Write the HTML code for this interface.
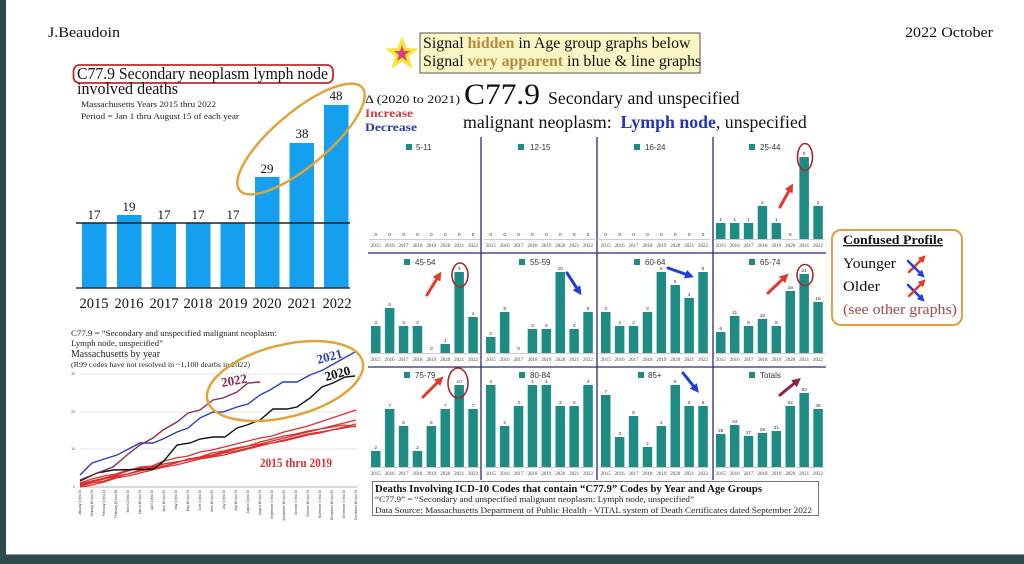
<!DOCTYPE html>
<html><head><meta charset="utf-8"><style>
html,body{margin:0;padding:0;width:1024px;height:564px;overflow:hidden;background:#2e4a4d;}
svg{display:block;}
.s{font-family:"Liberation Serif",serif;}
.a{font-family:"Liberation Sans",sans-serif;}
.yr{font-family:"Liberation Serif",serif;font-size:5px;fill:#444;text-anchor:middle;}
.vl{font-family:"Liberation Sans",sans-serif;font-size:4.8px;fill:#333;text-anchor:middle;}
.bar{fill:#1e8c84;}
.lg{font-family:"Liberation Sans",sans-serif;font-size:8px;fill:#333;}
.xt{font-family:"Liberation Sans",sans-serif;font-size:3.2px;fill:#333;text-anchor:end;}
</style></head><body>
<svg width="1024" height="564" viewBox="0 0 1024 564" xmlns="http://www.w3.org/2000/svg">
<defs>
<marker id="mr" viewBox="0 0 10 10" refX="3" refY="5" markerWidth="3" markerHeight="3" orient="auto"><path d="M0,0 L10,5 L0,10 z" fill="#e3382a"/></marker>
<marker id="mb" viewBox="0 0 10 10" refX="3" refY="5" markerWidth="3" markerHeight="3" orient="auto"><path d="M0,0 L10,5 L0,10 z" fill="#1f3fd8"/></marker>
<marker id="mm" viewBox="0 0 10 10" refX="3" refY="5" markerWidth="3" markerHeight="3" orient="auto"><path d="M0,0 L10,5 L0,10 z" fill="#8c1f4c"/></marker>
</defs>
<rect x="0" y="0" width="1024" height="564" fill="#2e4a4d"/>
<rect x="6" y="0" width="1018" height="555" fill="#ffffff"/>
<rect x="6" y="554" width="1018" height="1" fill="#8a9a9a"/>

<!-- header -->
<text class="s" x="48" y="37" font-size="15" fill="#111" textLength="72" lengthAdjust="spacingAndGlyphs">J.Beaudoin</text>
<text class="s" x="905" y="37" font-size="15" fill="#111" textLength="88" lengthAdjust="spacingAndGlyphs">2022 October</text>

<!-- left bar chart -->
<rect x="73.5" y="65" width="259.5" height="18" rx="6" fill="none" stroke="#c42a2a" stroke-width="1.8"/>
<text class="s" x="77" y="79" font-size="17" fill="#111" textLength="251" lengthAdjust="spacingAndGlyphs">C77.9 Secondary neoplasm lymph node</text>
<text class="s" x="77" y="94" font-size="17" fill="#111" textLength="101" lengthAdjust="spacingAndGlyphs">involved deaths</text>
<text class="s" x="81" y="107" font-size="8" fill="#222" textLength="135" lengthAdjust="spacingAndGlyphs">Massachusetts Years 2015 thru 2022</text>
<text class="s" x="81" y="119" font-size="8" fill="#222" textLength="158" lengthAdjust="spacingAndGlyphs">Period = Jan 1 thru August 15 of each year</text>

<g fill="#14a0ee">
<rect x="82" y="223" width="24.5" height="65"/>
<rect x="117" y="215" width="24.5" height="73"/>
<rect x="151.5" y="223" width="24.5" height="65"/>
<rect x="186" y="223" width="24.5" height="65"/>
<rect x="220.5" y="223" width="24.5" height="65"/>
<rect x="255" y="177" width="24.5" height="111"/>
<rect x="289.5" y="143" width="24.5" height="145"/>
<rect x="324" y="105" width="24.5" height="183"/>
</g>
<line x1="76" y1="223" x2="350" y2="223" stroke="#222" stroke-width="1.5"/>
<line x1="76" y1="288" x2="350" y2="288" stroke="#333" stroke-width="1.5"/>
<g class="s" font-size="13" fill="#111" text-anchor="middle">
<text x="94" y="219">17</text>
<text x="129" y="211">19</text>
<text x="164" y="219">17</text>
<text x="198" y="219">17</text>
<text x="233" y="219">17</text>
<text x="267" y="173">29</text>
<text x="302" y="138">38</text>
<text x="336" y="100">48</text>
</g>
<g class="s" font-size="14.5" fill="#111" text-anchor="middle">
<text x="94" y="308">2015</text>
<text x="129" y="308">2016</text>
<text x="164" y="308">2017</text>
<text x="198" y="308">2018</text>
<text x="233" y="308">2019</text>
<text x="267" y="308">2020</text>
<text x="302" y="308">2021</text>
<text x="337" y="308">2022</text>
</g>
<ellipse cx="301" cy="139" rx="80" ry="27" transform="rotate(-40 301 139)" fill="none" stroke="#e0a43a" stroke-width="2.5"/>

<!-- line chart -->
<text class="s" x="71" y="336" font-size="8.5" fill="#222" textLength="206" lengthAdjust="spacingAndGlyphs">C77.9 = “Secondary and unspecified malignant neoplasm:</text>
<text class="s" x="71" y="346" font-size="8.5" fill="#222" textLength="92" lengthAdjust="spacingAndGlyphs">Lymph node, unspecified”</text>
<text class="s" x="71" y="357" font-size="10.5" fill="#222" textLength="89" lengthAdjust="spacingAndGlyphs">Massachusetts by year</text>
<text class="s" x="71" y="367" font-size="7" fill="#222" textLength="179" lengthAdjust="spacingAndGlyphs">(R99 codes have not resolved in ~1,100 deaths in 2022)</text>
<g stroke="#dddddd" stroke-width="0.8">
<line x1="80" y1="374" x2="357" y2="374"/>
<line x1="80" y1="412" x2="357" y2="412"/>
<line x1="80" y1="449" x2="357" y2="449"/>
</g>
<line x1="80" y1="487" x2="357" y2="487" stroke="#999" stroke-width="0.8"/>
<g class="a" font-size="3.5" fill="#555" text-anchor="end">
<text x="75" y="375">30</text><text x="75" y="413">20</text><text x="75" y="450">10</text><text x="75" y="488">0</text>
</g>
<g fill="none" stroke="#d93030" stroke-width="1.3" stroke-linejoin="round">
<polyline points="80,484 92,481 104,478 116,475 128,471 140,467 152,466 164,461 176,458 188,456 200,452 212,450 224,447 236,444 248,441 260,438 272,436 284,432 296,429 308,426 320,422 332,418 344,414 356,410"/>
<polyline points="80,486 92,483 104,481 116,477 128,474 140,471 152,469 164,466 176,463 188,459 200,457 212,453 224,451 236,448 248,446 260,444 272,441 284,438 296,435 308,432 320,429 332,426 344,423 356,420"/>
<polyline points="80,483 92,479 104,476 116,474 128,470 140,468 152,467 164,464 176,462 188,460 200,458 212,456 224,453 236,451 248,448 260,445 272,443 284,440 296,437 308,434 320,432 332,430 344,427 356,424"/>
<polyline points="80,487 92,485 104,482 116,478 128,476 140,473 152,470 164,467 176,465 188,462 200,459 212,457 224,455 236,452 248,449 260,446 272,443 284,441 296,438 308,435 320,433 332,430 344,428 356,426"/>
<polyline points="80,485 92,482 104,479 116,476 128,474 140,470 152,468 164,464 176,462 188,460 200,457 212,455 224,452 236,449 248,446 260,442 272,439 284,436 296,434 308,431 320,429 332,427 344,425 356,427"/>
</g>
<polyline fill="none" stroke="#2a3ec0" stroke-width="1.4" points="80,475 92,463 117,455 140,443 153,443 163,439 177,432 188,428 200,418 213,412 223,412 237,407 248,404 260,395 270,390 283,382 297,382 310,375 323,370 337,362 355,352"/>
<polyline fill="none" stroke="#111" stroke-width="1.4" points="80,481 97,473 113,470 153,469 163,462 177,445 190,443 200,439 213,437 225,437 237,428 247,425 260,420 273,409 287,409 297,407 310,398 322,387 333,383 345,377 355,376"/>
<polyline fill="none" stroke="#8a2a55" stroke-width="1.4" points="80,480 97,473 113,467 127,455 140,445 153,438 163,430 177,422 188,413 200,410 213,400 223,398 237,392 248,383 260,382"/>
<text class="s" x="318" y="364" font-size="13" font-weight="bold" fill="#2a3ec0" transform="rotate(-15 318 364)">2021</text>
<text class="s" x="326" y="381" font-size="13" font-weight="bold" fill="#111" transform="rotate(-15 326 381)">2020</text>
<text class="s" x="222" y="387" font-size="13" font-weight="bold" fill="#8a2a55" transform="rotate(-10 222 387)">2022</text>
<text class="s" x="260" y="467" font-size="13" font-weight="bold" fill="#d93030" textLength="72" lengthAdjust="spacingAndGlyphs">2015 thru 2019</text>
<ellipse cx="285" cy="381" rx="80" ry="36" transform="rotate(-14 285 381)" fill="none" stroke="#e0a43a" stroke-width="2.5"/>
<g class="xt">
<text transform="translate(81,490) rotate(-90)">January 1 thru 15</text>
<text transform="translate(93,490) rotate(-90)">January 16 thru 31</text>
<text transform="translate(105,490) rotate(-90)">February 1 thru 14</text>
<text transform="translate(117,490) rotate(-90)">February 15 thru 28</text>
<text transform="translate(129,490) rotate(-90)">March 1 thru 15</text>
<text transform="translate(141,490) rotate(-90)">March 16 thru 31</text>
<text transform="translate(153,490) rotate(-90)">April 1 thru 15</text>
<text transform="translate(165,490) rotate(-90)">April 16 thru 30</text>
<text transform="translate(177,490) rotate(-90)">May 1 thru 15</text>
<text transform="translate(189,490) rotate(-90)">May 16 thru 31</text>
<text transform="translate(201,490) rotate(-90)">June 1 thru 15</text>
<text transform="translate(213,490) rotate(-90)">June 16 thru 30</text>
<text transform="translate(225,490) rotate(-90)">July 1 thru 15</text>
<text transform="translate(237,490) rotate(-90)">July 16 thru 31</text>
<text transform="translate(249,490) rotate(-90)">August 1 thru 15</text>
<text transform="translate(261,490) rotate(-90)">August 16 thru 31</text>
<text transform="translate(273,490) rotate(-90)">September 1 thru 15</text>
<text transform="translate(285,490) rotate(-90)">September 16 thru 30</text>
<text transform="translate(297,490) rotate(-90)">October 1 thru 15</text>
<text transform="translate(309,490) rotate(-90)">October 16 thru 31</text>
<text transform="translate(321,490) rotate(-90)">November 1 thru 15</text>
<text transform="translate(333,490) rotate(-90)">November 16 thru 30</text>
<text transform="translate(345,490) rotate(-90)">December 1 thru 15</text>
<text transform="translate(357,490) rotate(-90)">December 16 thru 31</text>
</g>

<!-- yellow note -->
<rect x="420" y="33" width="280" height="40" fill="#f9f5c4" stroke="#555" stroke-width="1"/>
<polygon points="402,36 406.5,48 419,48.5 409,56 412.5,69 402,61.5 391.5,69 395,56 385,48.5 397.5,48" fill="#f3e83a"/>
<polygon points="402,45 404,51 410,51 405,55 407,61 402,57.5 397,61 399,55 394,51 400,51" fill="#e23c7a"/>
<text class="s" x="423" y="48" font-size="15.9" fill="#111">Signal <tspan font-weight="bold" fill="#b68a3c">hidden</tspan> in Age group graphs below</text>
<text class="s" x="423" y="66" font-size="15.9" fill="#111">Signal <tspan font-weight="bold" fill="#b68a3c">very apparent</tspan> in blue &amp; line graphs</text>

<!-- heading -->
<text class="s" x="365" y="103" font-size="11.5" fill="#111" textLength="95" lengthAdjust="spacingAndGlyphs">Δ (2020 to 2021)</text>
<text class="s" x="464" y="104" font-size="30" fill="#111" textLength="76" lengthAdjust="spacingAndGlyphs">C77.9</text>
<text class="s" x="548" y="104" font-size="17.8" fill="#111">Secondary and unspecified</text>
<text class="s" x="365" y="117" font-size="12" font-weight="bold" fill="#cc3a40" textLength="48" lengthAdjust="spacingAndGlyphs">Increase</text>
<text class="s" x="365" y="131" font-size="12" font-weight="bold" fill="#2a3aa8" textLength="52" lengthAdjust="spacingAndGlyphs">Decrease</text>
<text class="s" x="463" y="128" font-size="17.8" fill="#111" xml:space="preserve">malignant neoplasm:  <tspan font-weight="bold" fill="#2436b4">Lymph node</tspan>, unspecified</text>

<!-- grid lines -->
<g stroke="#2b2b7c" stroke-width="1.3">
<line x1="481" y1="137" x2="481" y2="480"/>
<line x1="597" y1="137" x2="597" y2="480"/>
<line x1="713" y1="137" x2="713" y2="480"/>
<line x1="368" y1="253" x2="826" y2="253"/>
<line x1="368" y1="367" x2="826" y2="367"/>
</g>

<!-- legends -->
<g fill="#1e8c84">
<rect x="406" y="144" width="6" height="6"/><rect x="518" y="144" width="6" height="6"/><rect x="634" y="144" width="6" height="6"/><rect x="749" y="144" width="6" height="6"/>
<rect x="404" y="259" width="6" height="6"/><rect x="519" y="259" width="6" height="6"/><rect x="634" y="259" width="6" height="6"/><rect x="749" y="259" width="6" height="6"/>
<rect x="404" y="372" width="6" height="6"/><rect x="519" y="372" width="6" height="6"/><rect x="638" y="372" width="6" height="6"/><rect x="749" y="372" width="6" height="6"/>
</g>
<g class="lg">
<text x="416" y="150">5-11</text><text x="530" y="150">12-15</text><text x="645" y="150">16-24</text><text x="760" y="150">25-44</text>
<text x="415" y="265">45-54</text><text x="530" y="265">55-59</text><text x="645" y="265">60-64</text><text x="760" y="265">65-74</text>
<text x="415" y="378">75-79</text><text x="530" y="378">80-84</text><text x="648" y="378">85+</text><text x="760" y="378">Totals</text>
</g>

<!-- Panel 5-11 -->
<g transform="translate(371,239)">
<line x1="-2" y1="0.5" x2="109" y2="0.5" stroke="#999" stroke-width="0.6"/>
<text class="vl" x="4.75" y="-3">0</text><text class="vl" x="18.65" y="-3">0</text><text class="vl" x="32.55" y="-3">0</text><text class="vl" x="46.45" y="-3">0</text><text class="vl" x="60.35" y="-3">0</text><text class="vl" x="74.25" y="-3">0</text><text class="vl" x="88.15" y="-3">0</text><text class="vl" x="102.05" y="-3">0</text>
<text class="yr" x="4.75" y="8">2015</text><text class="yr" x="18.65" y="8">2016</text><text class="yr" x="32.55" y="8">2017</text><text class="yr" x="46.45" y="8">2018</text><text class="yr" x="60.35" y="8">2019</text><text class="yr" x="74.25" y="8">2020</text><text class="yr" x="88.15" y="8">2021</text><text class="yr" x="102.05" y="8">2022</text>
</g>
<!-- Panel 12-15 -->
<g transform="translate(486,239)">
<line x1="-2" y1="0.5" x2="109" y2="0.5" stroke="#999" stroke-width="0.6"/>
<text class="vl" x="4.75" y="-3">0</text><text class="vl" x="18.65" y="-3">0</text><text class="vl" x="32.55" y="-3">0</text><text class="vl" x="46.45" y="-3">0</text><text class="vl" x="60.35" y="-3">0</text><text class="vl" x="74.25" y="-3">0</text><text class="vl" x="88.15" y="-3">0</text><text class="vl" x="102.05" y="-3">0</text>
<text class="yr" x="4.75" y="8">2015</text><text class="yr" x="18.65" y="8">2016</text><text class="yr" x="32.55" y="8">2017</text><text class="yr" x="46.45" y="8">2018</text><text class="yr" x="60.35" y="8">2019</text><text class="yr" x="74.25" y="8">2020</text><text class="yr" x="88.15" y="8">2021</text><text class="yr" x="102.05" y="8">2022</text>
</g>
<!-- Panel 16-24 -->
<g transform="translate(601,239)">
<line x1="-2" y1="0.5" x2="109" y2="0.5" stroke="#999" stroke-width="0.6"/>
<text class="vl" x="4.75" y="-3">0</text><text class="vl" x="18.65" y="-3">0</text><text class="vl" x="32.55" y="-3">0</text><text class="vl" x="46.45" y="-3">0</text><text class="vl" x="60.35" y="-3">0</text><text class="vl" x="74.25" y="-3">0</text><text class="vl" x="88.15" y="-3">0</text><text class="vl" x="102.05" y="-3">0</text>
<text class="yr" x="4.75" y="8">2015</text><text class="yr" x="18.65" y="8">2016</text><text class="yr" x="32.55" y="8">2017</text><text class="yr" x="46.45" y="8">2018</text><text class="yr" x="60.35" y="8">2019</text><text class="yr" x="74.25" y="8">2020</text><text class="yr" x="88.15" y="8">2021</text><text class="yr" x="102.05" y="8">2022</text>
</g>
<!-- Panel 25-44 -->
<g transform="translate(716,239)">
<rect class="bar" x="0" y="-16" width="9.5" height="16"/><rect class="bar" x="13.9" y="-16" width="9.5" height="16"/><rect class="bar" x="27.8" y="-16" width="9.5" height="16"/><rect class="bar" x="41.7" y="-33" width="9.5" height="33"/><rect class="bar" x="55.6" y="-16" width="9.5" height="16"/><rect class="bar" x="83.4" y="-82" width="9.5" height="82"/><rect class="bar" x="97.3" y="-33" width="9.5" height="33"/>
<line x1="-2" y1="0.5" x2="109" y2="0.5" stroke="#999" stroke-width="0.6"/>
<text class="vl" x="4.75" y="-18">1</text><text class="vl" x="18.65" y="-18">1</text><text class="vl" x="32.55" y="-18">1</text><text class="vl" x="46.45" y="-35">2</text><text class="vl" x="60.35" y="-18">1</text><text class="vl" x="74.25" y="-3">0</text><text class="vl" x="88.15" y="-84">5</text><text class="vl" x="102.05" y="-35">2</text>
<text class="yr" x="4.75" y="8">2015</text><text class="yr" x="18.65" y="8">2016</text><text class="yr" x="32.55" y="8">2017</text><text class="yr" x="46.45" y="8">2018</text><text class="yr" x="60.35" y="8">2019</text><text class="yr" x="74.25" y="8">2020</text><text class="yr" x="88.15" y="8">2021</text><text class="yr" x="102.05" y="8">2022</text>
</g>
<!-- Panel 45-54 -->
<g transform="translate(371,353)">
<rect class="bar" x="0" y="-27" width="9.5" height="27"/><rect class="bar" x="13.9" y="-45" width="9.5" height="45"/><rect class="bar" x="27.8" y="-27" width="9.5" height="27"/><rect class="bar" x="41.7" y="-27" width="9.5" height="27"/><rect class="bar" x="69.5" y="-9" width="9.5" height="9"/><rect class="bar" x="83.4" y="-81" width="9.5" height="81"/><rect class="bar" x="97.3" y="-36" width="9.5" height="36"/>
<line x1="-2" y1="0.5" x2="109" y2="0.5" stroke="#999" stroke-width="0.6"/>
<text class="vl" x="4.75" y="-29">3</text><text class="vl" x="18.65" y="-47">5</text><text class="vl" x="32.55" y="-29">3</text><text class="vl" x="46.45" y="-29">3</text><text class="vl" x="60.35" y="-3">0</text><text class="vl" x="74.25" y="-11">1</text><text class="vl" x="88.15" y="-83">9</text><text class="vl" x="102.05" y="-38">4</text>
<text class="yr" x="4.75" y="8">2015</text><text class="yr" x="18.65" y="8">2016</text><text class="yr" x="32.55" y="8">2017</text><text class="yr" x="46.45" y="8">2018</text><text class="yr" x="60.35" y="8">2019</text><text class="yr" x="74.25" y="8">2020</text><text class="yr" x="88.15" y="8">2021</text><text class="yr" x="102.05" y="8">2022</text>
</g>
<!-- Panel 55-59 -->
<g transform="translate(486,353)">
<rect class="bar" x="0" y="-16" width="9.5" height="16"/><rect class="bar" x="13.9" y="-41" width="9.5" height="41"/><rect class="bar" x="41.7" y="-24" width="9.5" height="24"/><rect class="bar" x="55.6" y="-24" width="9.5" height="24"/><rect class="bar" x="69.5" y="-81" width="9.5" height="81"/><rect class="bar" x="83.4" y="-24" width="9.5" height="24"/><rect class="bar" x="97.3" y="-41" width="9.5" height="41"/>
<line x1="-2" y1="0.5" x2="109" y2="0.5" stroke="#999" stroke-width="0.6"/>
<text class="vl" x="4.75" y="-18">2</text><text class="vl" x="18.65" y="-43">5</text><text class="vl" x="32.55" y="-3">0</text><text class="vl" x="46.45" y="-26">3</text><text class="vl" x="60.35" y="-26">3</text><text class="vl" x="74.25" y="-83">10</text><text class="vl" x="88.15" y="-26">3</text><text class="vl" x="102.05" y="-43">5</text>
<text class="yr" x="4.75" y="8">2015</text><text class="yr" x="18.65" y="8">2016</text><text class="yr" x="32.55" y="8">2017</text><text class="yr" x="46.45" y="8">2018</text><text class="yr" x="60.35" y="8">2019</text><text class="yr" x="74.25" y="8">2020</text><text class="yr" x="88.15" y="8">2021</text><text class="yr" x="102.05" y="8">2022</text>
</g>
<!-- Panel 60-64 -->
<g transform="translate(601,353)">
<rect class="bar" x="0" y="-41" width="9.5" height="41"/><rect class="bar" x="13.9" y="-27" width="9.5" height="27"/><rect class="bar" x="27.8" y="-27" width="9.5" height="27"/><rect class="bar" x="41.7" y="-41" width="9.5" height="41"/><rect class="bar" x="55.6" y="-81" width="9.5" height="81"/><rect class="bar" x="69.5" y="-68" width="9.5" height="68"/><rect class="bar" x="83.4" y="-55" width="9.5" height="55"/><rect class="bar" x="97.3" y="-81" width="9.5" height="81"/>
<line x1="-2" y1="0.5" x2="109" y2="0.5" stroke="#999" stroke-width="0.6"/>
<text class="vl" x="4.75" y="-43">3</text><text class="vl" x="18.65" y="-29">2</text><text class="vl" x="32.55" y="-29">2</text><text class="vl" x="46.45" y="-43">3</text><text class="vl" x="60.35" y="-83">6</text><text class="vl" x="74.25" y="-70">5</text><text class="vl" x="88.15" y="-57">4</text><text class="vl" x="102.05" y="-83">6</text>
<text class="yr" x="4.75" y="8">2015</text><text class="yr" x="18.65" y="8">2016</text><text class="yr" x="32.55" y="8">2017</text><text class="yr" x="46.45" y="8">2018</text><text class="yr" x="60.35" y="8">2019</text><text class="yr" x="74.25" y="8">2020</text><text class="yr" x="88.15" y="8">2021</text><text class="yr" x="102.05" y="8">2022</text>
</g>
<!-- Panel 65-74 -->
<g transform="translate(716,353)">
<rect class="bar" x="0" y="-21" width="9.5" height="21"/><rect class="bar" x="13.9" y="-37" width="9.5" height="37"/><rect class="bar" x="27.8" y="-27" width="9.5" height="27"/><rect class="bar" x="41.7" y="-34" width="9.5" height="34"/><rect class="bar" x="55.6" y="-27" width="9.5" height="27"/><rect class="bar" x="69.5" y="-62" width="9.5" height="62"/><rect class="bar" x="83.4" y="-79" width="9.5" height="79"/><rect class="bar" x="97.3" y="-51" width="9.5" height="51"/>
<line x1="-2" y1="0.5" x2="109" y2="0.5" stroke="#999" stroke-width="0.6"/>
<text class="vl" x="4.75" y="-23">6</text><text class="vl" x="18.65" y="-39">11</text><text class="vl" x="32.55" y="-29">8</text><text class="vl" x="46.45" y="-36">10</text><text class="vl" x="60.35" y="-29">8</text><text class="vl" x="74.25" y="-64">18</text><text class="vl" x="88.15" y="-81">21</text><text class="vl" x="102.05" y="-53">15</text>
<text class="yr" x="4.75" y="8">2015</text><text class="yr" x="18.65" y="8">2016</text><text class="yr" x="32.55" y="8">2017</text><text class="yr" x="46.45" y="8">2018</text><text class="yr" x="60.35" y="8">2019</text><text class="yr" x="74.25" y="8">2020</text><text class="yr" x="88.15" y="8">2021</text><text class="yr" x="102.05" y="8">2022</text>
</g>
<!-- Panel 75-79 -->
<g transform="translate(371,467)">
<rect class="bar" x="0" y="-16" width="9.5" height="16"/><rect class="bar" x="13.9" y="-58" width="9.5" height="58"/><rect class="bar" x="27.8" y="-41" width="9.5" height="41"/><rect class="bar" x="41.7" y="-16" width="9.5" height="16"/><rect class="bar" x="55.6" y="-41" width="9.5" height="41"/><rect class="bar" x="69.5" y="-58" width="9.5" height="58"/><rect class="bar" x="83.4" y="-82" width="9.5" height="82"/><rect class="bar" x="97.3" y="-58" width="9.5" height="58"/>
<line x1="-2" y1="0.5" x2="109" y2="0.5" stroke="#999" stroke-width="0.6"/>
<text class="vl" x="4.75" y="-18">2</text><text class="vl" x="18.65" y="-60">7</text><text class="vl" x="32.55" y="-43">5</text><text class="vl" x="46.45" y="-18">2</text><text class="vl" x="60.35" y="-43">5</text><text class="vl" x="74.25" y="-60">7</text><text class="vl" x="88.15" y="-84">10</text><text class="vl" x="102.05" y="-60">7</text>
<text class="yr" x="4.75" y="8">2015</text><text class="yr" x="18.65" y="8">2016</text><text class="yr" x="32.55" y="8">2017</text><text class="yr" x="46.45" y="8">2018</text><text class="yr" x="60.35" y="8">2019</text><text class="yr" x="74.25" y="8">2020</text><text class="yr" x="88.15" y="8">2021</text><text class="yr" x="102.05" y="8">2022</text>
</g>
<!-- Panel 80-84 -->
<g transform="translate(486,467)">
<rect class="bar" x="0" y="-82" width="9.5" height="82"/><rect class="bar" x="13.9" y="-41" width="9.5" height="41"/><rect class="bar" x="27.8" y="-61" width="9.5" height="61"/><rect class="bar" x="41.7" y="-82" width="9.5" height="82"/><rect class="bar" x="55.6" y="-82" width="9.5" height="82"/><rect class="bar" x="69.5" y="-61" width="9.5" height="61"/><rect class="bar" x="83.4" y="-61" width="9.5" height="61"/><rect class="bar" x="97.3" y="-82" width="9.5" height="82"/>
<line x1="-2" y1="0.5" x2="109" y2="0.5" stroke="#999" stroke-width="0.6"/>
<text class="vl" x="4.75" y="-84">4</text><text class="vl" x="18.65" y="-43">2</text><text class="vl" x="32.55" y="-63">3</text><text class="vl" x="46.45" y="-84">4</text><text class="vl" x="60.35" y="-84">4</text><text class="vl" x="74.25" y="-63">3</text><text class="vl" x="88.15" y="-63">3</text><text class="vl" x="102.05" y="-84">4</text>
<text class="yr" x="4.75" y="8">2015</text><text class="yr" x="18.65" y="8">2016</text><text class="yr" x="32.55" y="8">2017</text><text class="yr" x="46.45" y="8">2018</text><text class="yr" x="60.35" y="8">2019</text><text class="yr" x="74.25" y="8">2020</text><text class="yr" x="88.15" y="8">2021</text><text class="yr" x="102.05" y="8">2022</text>
</g>
<!-- Panel 85+ -->
<g transform="translate(601,467)">
<rect class="bar" x="0" y="-72" width="9.5" height="72"/><rect class="bar" x="13.9" y="-30" width="9.5" height="30"/><rect class="bar" x="27.8" y="-51" width="9.5" height="51"/><rect class="bar" x="41.7" y="-20" width="9.5" height="20"/><rect class="bar" x="55.6" y="-41" width="9.5" height="41"/><rect class="bar" x="69.5" y="-82" width="9.5" height="82"/><rect class="bar" x="83.4" y="-61" width="9.5" height="61"/><rect class="bar" x="97.3" y="-61" width="9.5" height="61"/>
<line x1="-2" y1="0.5" x2="109" y2="0.5" stroke="#999" stroke-width="0.6"/>
<text class="vl" x="4.75" y="-74">7</text><text class="vl" x="18.65" y="-32">3</text><text class="vl" x="32.55" y="-53">5</text><text class="vl" x="46.45" y="-22">2</text><text class="vl" x="60.35" y="-43">4</text><text class="vl" x="74.25" y="-84">8</text><text class="vl" x="88.15" y="-63">6</text><text class="vl" x="102.05" y="-63">6</text>
<text class="yr" x="4.75" y="8">2015</text><text class="yr" x="18.65" y="8">2016</text><text class="yr" x="32.55" y="8">2017</text><text class="yr" x="46.45" y="8">2018</text><text class="yr" x="60.35" y="8">2019</text><text class="yr" x="74.25" y="8">2020</text><text class="yr" x="88.15" y="8">2021</text><text class="yr" x="102.05" y="8">2022</text>
</g>
<!-- Panel Totals -->
<g transform="translate(716,467)">
<rect class="bar" x="0" y="-33" width="9.5" height="33"/><rect class="bar" x="13.9" y="-42" width="9.5" height="42"/><rect class="bar" x="27.8" y="-31" width="9.5" height="31"/><rect class="bar" x="41.7" y="-34" width="9.5" height="34"/><rect class="bar" x="55.6" y="-36" width="9.5" height="36"/><rect class="bar" x="69.5" y="-61" width="9.5" height="61"/><rect class="bar" x="83.4" y="-74" width="9.5" height="74"/><rect class="bar" x="97.3" y="-58" width="9.5" height="58"/>
<line x1="-2" y1="0.5" x2="109" y2="0.5" stroke="#999" stroke-width="0.6"/>
<text class="vl" x="4.75" y="-35">28</text><text class="vl" x="18.65" y="-44">34</text><text class="vl" x="32.55" y="-33">27</text><text class="vl" x="46.45" y="-36">29</text><text class="vl" x="60.35" y="-38">31</text><text class="vl" x="74.25" y="-63">52</text><text class="vl" x="88.15" y="-76">63</text><text class="vl" x="102.05" y="-60">49</text>
<text class="yr" x="4.75" y="8">2015</text><text class="yr" x="18.65" y="8">2016</text><text class="yr" x="32.55" y="8">2017</text><text class="yr" x="46.45" y="8">2018</text><text class="yr" x="60.35" y="8">2019</text><text class="yr" x="74.25" y="8">2020</text><text class="yr" x="88.15" y="8">2021</text><text class="yr" x="102.05" y="8">2022</text>
</g>

<!-- red circles -->
<g fill="none" stroke="#a82828" stroke-width="1.6">
<ellipse cx="805" cy="157" rx="7.5" ry="13.5"/>
<ellipse cx="460" cy="275" rx="8" ry="12"/>
<ellipse cx="805" cy="275" rx="8" ry="10.5"/>
<ellipse cx="458" cy="383" rx="10" ry="15"/>
</g>

<!-- arrows -->
<g stroke-width="3" stroke-linecap="round">
<line x1="780" y1="207" x2="790" y2="189" stroke="#e3382a" marker-end="url(#mr)"/>
<line x1="427" y1="295" x2="438" y2="277" stroke="#e3382a" marker-end="url(#mr)"/>
<line x1="567" y1="273" x2="578" y2="290" stroke="#1f3fd8" marker-end="url(#mb)"/>
<line x1="668" y1="268" x2="688" y2="275" stroke="#1f3fd8" marker-end="url(#mb)"/>
<line x1="768" y1="293" x2="784" y2="278" stroke="#e3382a" marker-end="url(#mr)"/>
<line x1="423" y1="397" x2="439" y2="381" stroke="#e3382a" marker-end="url(#mr)"/>
<line x1="683" y1="373" x2="695" y2="388" stroke="#1f3fd8" marker-end="url(#mb)"/>
<line x1="780" y1="395" x2="796" y2="382" stroke="#8c1f4c" marker-end="url(#mm)"/>
</g>

<!-- bottom caption box -->
<rect x="372.5" y="481.5" width="446" height="34" fill="#fff" stroke="#777" stroke-width="1"/>
<text class="s" x="375" y="492" font-size="11" font-weight="bold" fill="#111" textLength="387" lengthAdjust="spacingAndGlyphs">Deaths Involving ICD-10 Codes that contain “C77.9” Codes by Year and Age Groups</text>
<text class="s" x="375" y="502" font-size="8.5" fill="#222" textLength="319" lengthAdjust="spacingAndGlyphs">“C77.9” = “Secondary and unspecified malignant neoplasm: Lymph node, unspecified”</text>
<text class="s" x="375" y="513" font-size="8.5" fill="#222" textLength="437" lengthAdjust="spacingAndGlyphs">Data Source:  Massachusetts Department of Public Health - VITAL system of Death Certificates dated September 2022</text>

<!-- Confused profile -->
<rect x="832" y="230" width="130" height="95" rx="9" fill="#fff" stroke="#e0a040" stroke-width="2"/>
<text class="s" x="843" y="244" font-size="13" font-weight="bold" fill="#111" text-decoration="underline" textLength="100" lengthAdjust="spacingAndGlyphs">Confused Profile</text>
<text class="s" x="843" y="268" font-size="15" fill="#111" textLength="53" lengthAdjust="spacingAndGlyphs">Younger</text>
<text class="s" x="843" y="291" font-size="15" fill="#111" textLength="37" lengthAdjust="spacingAndGlyphs">Older</text>
<text class="s" x="843" y="314" font-size="15" fill="#a04848" textLength="114" lengthAdjust="spacingAndGlyphs">(see other graphs)</text>
<g stroke-width="2.5" stroke-linecap="round">
<line x1="909" y1="272" x2="922" y2="259" stroke="#e3382a" marker-end="url(#mr)"/>
<line x1="908" y1="261" x2="921" y2="274" stroke="#1f3fd8" marker-end="url(#mb)"/>
<line x1="908" y1="285" x2="921" y2="298" stroke="#1f3fd8" marker-end="url(#mb)"/>
<line x1="909" y1="296" x2="922" y2="283" stroke="#e3382a" marker-end="url(#mr)"/>
</g>
</svg>
</body></html>
